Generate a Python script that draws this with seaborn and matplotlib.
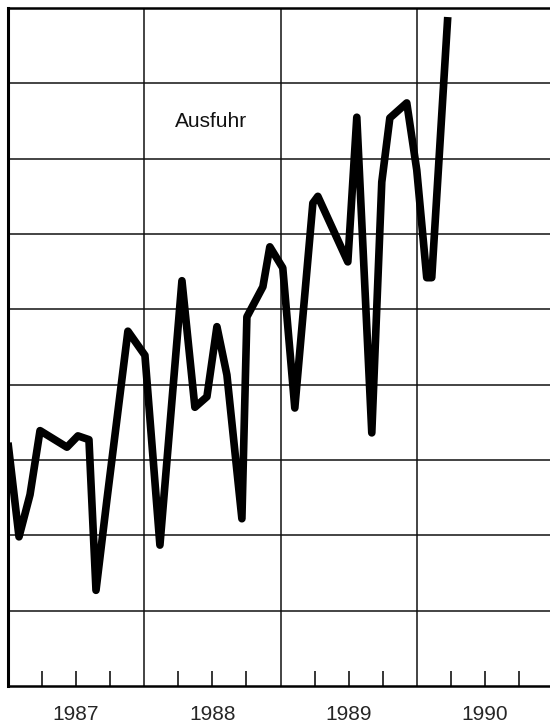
import matplotlib
matplotlib.use("Agg")
import matplotlib.pyplot as plt
import pandas as pd
import seaborn as sns

# months since Jan 1987 and index values (grid units)
months = [0.0, 0.97, 1.94, 2.82, 5.19, 6.16, 7.13, 7.75, 8.71, 10.56,
          12.06, 13.38, 15.32, 16.46, 17.52, 18.4, 19.28, 20.6, 21.04, 22.45,
          23.06, 24.2, 25.26, 26.85, 27.29, 29.93, 30.72, 32.04, 32.92, 33.63,
          35.12, 36.0, 36.88, 37.32, 38.73]
values = [3.23, 1.98, 2.54, 3.39, 3.17, 3.32, 3.27, 1.27, 2.47, 4.71,
          4.39, 1.87, 5.38, 3.70, 3.84, 4.77, 4.13, 2.22, 4.90, 5.30,
          5.83, 5.55, 3.69, 6.41, 6.50, 5.63, 7.55, 3.36, 6.69, 7.54,
          7.74, 6.85, 5.42, 5.42, 8.88]
years = ["1987", "1988", "1989", "1990"]
label = "Ausfuhr"

df = pd.DataFrame({"month": months, "value": values})

sns.set_style("white")
plt.rcParams["font.family"] = ["Liberation Sans", "DejaVu Sans"]

fig = plt.figure(figsize=(5.5, 7.27), dpi=100)
ax = fig.add_axes([8 / 550, 1 - 686 / 727, 545 / 550, 678 / 727])

# grid
for yv in range(1, 9):
    ax.axhline(yv, color="#111111", lw=1.1, zorder=1)
for xv in (12, 24, 36):
    ax.axvline(xv, color="#111111", lw=1.1, zorder=1)

sns.lineplot(data=df, x="month", y="value", ax=ax, color="black",
             linewidth=5.5, sort=False, zorder=3)
ax.lines[-1].set_solid_joinstyle("round")
ax.lines[-1].set_solid_capstyle("butt")

ax.set_xlim(0, 48)
ax.set_ylim(0, 9)
ax.set_yticks([])
ax.set_xlabel("")
ax.set_ylabel("")

ax.set_xticks([6, 18, 30, 42])
ax.set_xticklabels(years)
ax.set_xticks([3, 9, 15, 21, 27, 33, 39, 45], minor=True)
ax.tick_params(axis="x", which="both", direction="in", length=11, width=1.1,
               color="black", bottom=True)
ax.tick_params(axis="x", which="major", labelsize=15, pad=14)
for t in ax.get_xticklabels():
    t.set_fontweight("medium")

for side in ("left", "top", "bottom"):
    ax.spines[side].set_color("black")
ax.spines["left"].set_linewidth(2.2)
ax.spines["top"].set_linewidth(1.8)
ax.spines["bottom"].set_linewidth(1.8)
ax.spines["right"].set_visible(False)

ax.text(17.9, 7.49, label, fontsize=15, ha="center", va="center",
        color="#111111")

fig.savefig("out.png", dpi=100)
